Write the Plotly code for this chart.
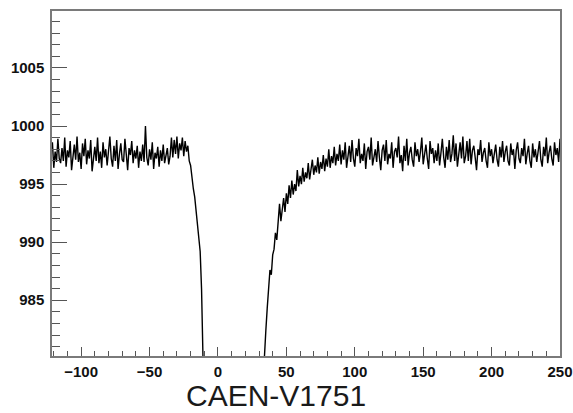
import plotly.graph_objects as go

# Sample times (ns), one sample per ns
t_start = -121

# Baseline before the pulse (t = -121 .. -23)
pre_baseline = [
    998.6, 996.4, 997.8, 996.9, 998.9, 997.2, 996.8, 998.1, 997.0, 999.0,
    996.5, 997.9, 997.3, 998.7, 996.2, 997.6, 998.4, 997.1, 999.1, 996.9,
    997.7, 996.3, 998.5, 997.4, 998.9, 996.7, 997.9, 997.2, 998.8, 996.1,
    997.5, 998.2, 997.0, 999.0, 996.8, 997.8, 996.4, 998.6, 997.3, 998.0,
    996.6, 997.7, 999.1, 997.2, 996.5, 998.3, 997.0, 998.8, 996.3, 997.6,
    998.5, 997.1, 996.9, 998.9, 997.4, 996.2, 998.1, 997.5, 998.7, 996.8,
    997.9, 997.2, 998.3, 996.4, 997.8, 997.0, 998.4, 996.9, 1000.0, 997.3,
    996.6, 998.0, 997.1, 998.6, 996.3, 997.7, 997.2, 998.2, 996.5, 997.9,
    997.0, 998.4, 996.8, 997.6, 998.1, 996.7, 997.4, 999.0, 997.3, 998.8,
    997.6, 999.1, 997.2, 998.5, 997.9, 999.0, 997.4, 998.7, 997.8,
]

# Leading edge (t = -22 .. -8)
falling_edge = [
    998.3, 997.0, 996.6, 995.4, 994.6, 993.9, 992.8, 991.9, 990.6, 989.2,
    986.0, 981.5, 975.0, 965.0, 955.0,
]

# Pulse body, below the visible window (t = -7 .. 33)
pulse_body = [
    945, 936, 929, 923, 919, 916, 914, 913, 913, 914,
    915, 917, 919, 921, 923, 925, 927, 929, 931, 933,
    935, 937, 939, 941, 943, 945, 947, 949, 951, 953,
    955, 957, 959, 961, 963, 965, 967, 969, 972, 975,
    978,
]

# Recovery tail (t = 34 .. 90)
recovery = [
    980.6, 982.4, 984.3, 985.6, 987.6, 987.2, 988.9, 989.4, 990.8, 990.2,
    991.9, 993.3, 991.8, 992.9, 993.8, 992.6, 994.2, 993.3, 994.9, 993.8,
    995.3, 994.1, 995.0, 994.4, 996.2, 994.8, 995.7, 995.0, 996.4, 995.2,
    996.0, 995.5, 996.8, 995.4, 996.3, 997.1, 995.8, 996.6, 996.0, 997.3,
    995.9, 996.9, 996.3, 997.5, 996.1, 997.2, 996.5, 998.0, 996.4, 997.4,
    996.8, 998.2, 996.6, 997.6, 997.0, 998.4, 996.7,
]

# Baseline after the pulse (t = 91 .. 250)
post_baseline = [
    997.9, 997.1, 998.6, 996.4, 997.7, 998.3, 996.9, 998.8, 997.2, 996.5,
    998.1, 997.4, 998.9, 996.8, 997.6, 997.0, 998.5, 996.3, 997.8, 998.2,
    997.1, 999.0, 996.6, 997.5, 998.0, 996.9, 998.7, 997.3, 996.2, 997.9,
    998.4, 997.0, 998.8, 996.7, 997.6, 997.2, 998.6, 996.4, 997.8, 998.1,
    997.3, 999.1, 996.8, 997.5, 996.1, 998.3, 997.0, 998.9, 996.6, 997.7,
    998.2, 997.1, 996.5, 998.6, 997.4, 998.0, 996.9, 997.8, 999.0, 996.7,
    997.5, 998.4, 997.2, 996.3, 998.7, 997.6, 998.1, 996.8, 997.9, 997.0,
    998.5, 996.6, 997.7, 998.9, 997.3, 996.4, 998.2, 997.1, 998.8, 996.9,
    997.6, 999.2, 997.0, 998.5, 996.5, 997.8, 998.6, 997.2, 999.1, 996.8,
    997.4, 998.7, 997.0, 998.9, 996.7, 997.9, 998.3, 997.3, 996.2, 998.0,
    997.5, 998.8, 996.9, 997.7, 998.1, 997.0, 996.4, 998.6, 997.4, 998.0,
    996.8, 997.6, 998.4, 997.1, 996.5, 998.2, 997.3, 998.7, 996.9, 997.8,
    998.3, 997.0, 996.6, 998.5, 997.5, 998.0, 996.3, 997.9, 998.6, 997.2,
    996.8, 998.1, 997.4, 998.9, 996.7, 997.6, 998.3, 997.0, 996.4, 998.5,
    997.3, 998.0, 996.9, 997.8, 998.7, 997.1, 996.5, 998.2, 997.4, 999.0,
    996.8, 997.7, 998.3, 997.2, 996.6, 998.6, 997.5, 998.1, 996.9, 998.9,
]

title_text = "CAEN-V1751"
x_tickvals = [-100, -50, 0, 50, 100, 150, 200, 250]
y_tickvals = [985, 990, 995, 1000, 1005]

adc = pre_baseline + falling_edge + pulse_body + recovery + post_baseline
times = list(range(t_start, t_start + len(adc)))

W, H = 573, 413
ML, MR, MT, MB = 52, 13, 11, 57

fig = go.Figure()
fig.add_trace(go.Scatter(
    x=times, y=adc, mode="lines",
    line=dict(color="black", width=1.4),
    hoverinfo="skip", showlegend=False,
))

axis_common = dict(
    showline=True, linecolor="#7a7a7a", linewidth=1.5, mirror=True,
    showgrid=False, zeroline=False, ticks="inside", tickcolor="#555555",
    tickwidth=1, tickfont=dict(family="Liberation Sans, Arial, sans-serif",
                               size=15, color="#111111", weight="bold"),
    automargin=False,
)

fig.update_xaxes(
    range=[-121.3, 250], tickvals=x_tickvals, ticklen=9,
    minor=dict(ticks="inside", dtick=10, ticklen=5, tickcolor="#555555", showgrid=False),
    ticklabelstandoff=1,
    **axis_common,
)
fig.update_yaxes(
    range=[980.2, 1009.9], tickvals=y_tickvals, ticklen=15,
    minor=dict(ticks="inside", dtick=1, ticklen=8, tickcolor="#555555", showgrid=False),
    ticklabelstandoff=3,
    **axis_common,
)

plot_w = W - ML - MR
plot_h = H - MT - MB
fig.add_annotation(
    text=title_text, xref="paper", yref="paper",
    x=(276 - ML) / plot_w, y=-(H - (H - MB)) / plot_h,
    xanchor="center", yanchor="bottom", showarrow=False, borderpad=0,
    font=dict(family="Liberation Sans, Arial, sans-serif", size=30, color="#1a1a1a"),
)

fig.update_layout(
    width=W, height=H,
    margin=dict(l=ML, r=MR, t=MT, b=MB, autoexpand=False),
    paper_bgcolor="white", plot_bgcolor="white",
)

fig.write_html(
    "out.html",
    config={"displayModeBar": False},
    post_script="document.body.style.margin='0';document.body.style.overflow='hidden';",
)
